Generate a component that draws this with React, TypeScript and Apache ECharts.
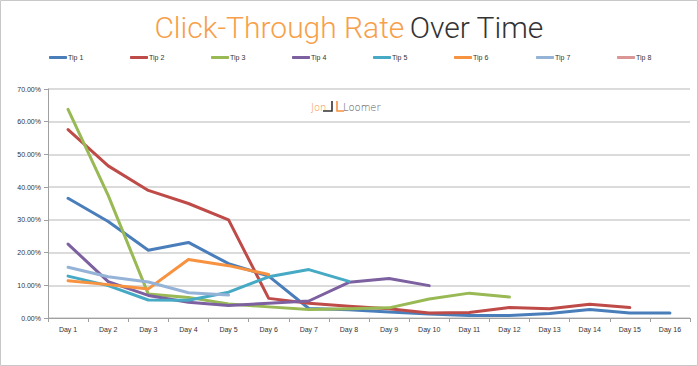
import React, { useEffect, useRef } from "react";
import * as echarts from "echarts";

const days = ["Day 1","Day 2","Day 3","Day 4","Day 5","Day 6","Day 7","Day 8","Day 9","Day 10","Day 11","Day 12","Day 13","Day 14","Day 15","Day 16"];
const tipNames = ["Tip 1","Tip 2","Tip 3","Tip 4","Tip 5","Tip 6","Tip 7","Tip 8"];
const tip1 = [36.6, 29.5, 20.7, 23.1, 16.6, 12.8, 2.9, 2.5, 1.8, 1.2, 0.8, 0.8, 1.4, 2.6, 1.5, 1.5];
const tip2 = [57.6, 46.5, 39.0, 35.0, 30.0, 6.0, 4.5, 3.6, 2.8, 1.5, 1.7, 3.2, 2.8, 4.2, 3.2];
const tip3 = [63.8, 37.5, 7.3, 6.3, 4.3, 3.4, 2.6, 2.8, 3.1, 5.8, 7.6, 6.4];
const tip4 = [22.6, 11.1, 6.9, 4.8, 3.8, 4.5, 5.2, 10.9, 12.1, 9.9];
const tip5 = [12.8, 9.9, 5.5, 5.4, 7.9, 12.6, 14.8, 11.2];
const tip6 = [11.4, 10.2, 8.9, 17.9, 16.0, 13.3];
const tip7 = [15.5, 12.6, 11.0, 7.7, 7.0];
const tip8: number[] = [];
const yTicks = [0, 10, 20, 30, 40, 50, 60, 70];

const colors = ["#4A7EBB", "#BE4B48", "#98B954", "#7D60A0", "#46AAC5", "#F69240", "#95B3D7", "#DA9694"];
const seriesData = [tip1, tip2, tip3, tip4, tip5, tip6, tip7, tip8];

const labelFont = "'Liberation Sans', Arial, sans-serif";

export default function App() {
  const ref = useRef<HTMLDivElement>(null);
  useEffect(() => {
    if (!ref.current) return;
    const chart = echarts.init(ref.current, undefined, { renderer: "svg" });
    const legendLefts = [49, 130, 211, 292, 373, 454, 536, 617];
    chart.setOption({
      animation: false,
      backgroundColor: "#ffffff",
      color: colors,
      title: {
        text: "{a|Click-Through Rate} {b|Over Time}",
        left: "center",
        top: 7,
        textStyle: {
          rich: {
            a: { fontFamily: "Roboto", fontSize: 30, fontWeight: 300, color: "#F7A04B" },
            b: { fontFamily: "Roboto", fontSize: 30, fontWeight: 300, color: "#333333" },
          },
        },
      },
      legend: tipNames.map((n, i) => ({
        data: [n],
        left: legendLefts[i],
        top: 54,
        icon: "roundRect",
        itemWidth: 18,
        itemHeight: 3,
        itemGap: 0,
        padding: 0,
        textStyle: { fontFamily: labelFont, fontSize: 7, color: "#333", padding: [0, 0, 0, -4] },
      })),
      grid: { left: 48, right: 8, top: 89, bottom: 48, containLabel: false },
      xAxis: {
        type: "category",
        data: days,
        boundaryGap: true,
        axisLine: { lineStyle: { color: "#a0a0a0", width: 1 } },
        axisTick: { show: true, length: 4, lineStyle: { color: "#a0a0a0" } },
        axisLabel: { fontFamily: labelFont, fontSize: 7, color: "#333", margin: 8 },
        splitLine: { show: false },
      },
      yAxis: {
        type: "value",
        min: 0,
        max: 70,
        interval: 10,
        axisLine: { show: true, lineStyle: { color: "#a0a0a0", width: 1 } },
        axisTick: { show: true, length: 4, lineStyle: { color: "#a0a0a0" } },
        axisLabel: {
          fontFamily: labelFont,
          fontSize: 7,
          color: "#333",
          margin: 7,
          formatter: (v: number) => (yTicks.includes(v) ? v.toFixed(2) + "%" : ""),
        },
        splitLine: { lineStyle: { color: "#cfcfcf", width: 1.5 } },
      },
      series: tipNames.map((n, i) => ({
        name: n,
        type: "line",
        data: seriesData[i],
        showSymbol: false,
        symbol: "none",
        lineStyle: { width: 3, color: colors[i], cap: "round", join: "round" },
        itemStyle: { color: colors[i] },
      })),
      graphic: [
        {
          type: "rect",
          shape: { x: 0.5, y: 0.5, width: 697, height: 365 },
          style: { fill: "none", stroke: "#c8c8c8", lineWidth: 1 },
          silent: true,
        },
        {
          type: "text",
          x: 311,
          y: 102,
          style: { text: "Jon", fill: "#F69240", font: "300 10px 'DejaVu Sans'" },
        },
        {
          type: "polyline",
          shape: { points: [[332, 101], [332, 111], [323, 111]] },
          style: { stroke: "#333", lineWidth: 1.6, fill: "none" },
        },
        {
          type: "polyline",
          shape: { points: [[337, 101], [337, 111], [344, 111]] },
          style: { stroke: "#F69240", lineWidth: 1.6, fill: "none" },
        },
        {
          type: "text",
          x: 343,
          y: 102,
          style: { text: "Loomer", fill: "#555", font: "300 10px 'DejaVu Sans'" },
        },
      ],
    });
    return () => chart.dispose();
  }, []);
  return (
    <div
      ref={ref}
      style={{ position: "fixed", left: 0, top: 0, width: 698, height: 366 }}
    />
  );
}
